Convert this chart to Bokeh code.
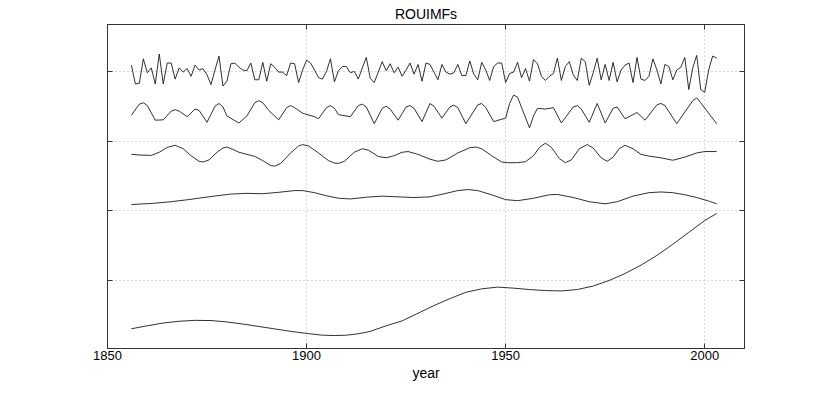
from bokeh.plotting import figure
from bokeh.models import Range1d, FixedTicker, LinearAxis, CustomJSTickFormatter
from bokeh.embed import file_html
from bokeh.resources import INLINE

# ---------------- data ----------------
title_text = "ROUIMFs"
x_label = "year"
x_ticks = [1850, 1900, 1950, 2000]
y_ticks = [1, 2, 3, 4]

# IMF 1 (annual, 1856-2003)
imf1_years = list(range(1856, 2004))
imf1_vals = [
    0.09, -0.18, -0.17, 0.18,
    -0.02, 0.05, -0.18, 0.25, -0.18, 0.12, 0.12, -0.11, 0.05, -0.01,
    0.04, -0.07, 0.09, 0.02, 0.04, -0.05, -0.19, 0.02, 0.22, -0.21,
    -0.14, 0.11, 0.12, 0.06, 0.02, 0.01, 0.12, -0.12, -0.12, 0.13,
    -0.14, 0.11, 0.06, -0.01, -0.01, -0.06, 0.12, 0.11, -0.16, 0.02,
    0.16, 0.12, 0.02, -0.09, -0.11, 0.00, 0.18, -0.15, 0.01, 0.07,
    0.07, -0.02, 0.00, -0.11, 0.05, 0.20, -0.10, -0.16, -0.01, 0.14,
    0.01, 0.11, -0.02, 0.06, -0.07, 0.02, 0.12, -0.04, 0.10, -0.14,
    0.12, 0.10, -0.01, -0.12, 0.10, -0.01, -0.04, -0.02, 0.10, -0.06,
    -0.06, 0.15, -0.04, -0.12, 0.13, 0.02, -0.13, 0.07, 0.12, 0.12,
    -0.16, -0.03, -0.01, 0.13, -0.09, 0.04, -0.14, 0.17, 0.11, -0.07,
    -0.13, -0.07, -0.03, 0.19, -0.13, 0.07, 0.14, -0.05, -0.13, 0.19,
    0.14, -0.20, -0.02, 0.19, -0.12, 0.10, -0.13, 0.13, -0.15, 0.02,
    0.09, 0.12, -0.16, 0.20, -0.11, -0.13, -0.07, 0.18, 0.02, -0.18,
    0.10, 0.07, -0.12, 0.02, 0.06, 0.20, -0.26, 0.05, 0.23, -0.26,
    -0.30, 0.02, 0.22, 0.19,
]

# IMF 2
imf2_years = [1856, 1858, 1859, 1860, 1862, 1864, 1866, 1867, 1868, 1870,
              1872, 1873, 1875, 1877, 1878, 1879, 1880, 1883, 1885, 1887,
              1888, 1889, 1890.5, 1893, 1895, 1896, 1897, 1899, 1902, 1903,
              1905, 1906, 1907, 1908, 1911, 1913, 1914, 1915, 1917, 1919,
              1920, 1921, 1923, 1925, 1926, 1927, 1929, 1931, 1932, 1934,
              1936, 1937, 1938, 1940, 1943, 1944, 1945, 1947, 1950, 1951,
              1952, 1953, 1956, 1957, 1958, 1960, 1962, 1964, 1967, 1968,
              1969, 1971, 1973, 1975, 1977, 1978, 1980, 1983, 1985, 1988,
              1989, 1990, 1993, 1997, 1998, 1999, 2003]
imf2_vals = [-0.04, 0.12, 0.14, 0.10, -0.11, -0.105, 0.02, 0.04, 0.02, -0.06,
             0.05, 0.03, -0.14, 0.09, 0.13, 0.08, -0.05, -0.15, -0.05, 0.14,
             0.17, 0.14, 0.03, -0.105, 0.07, 0.10, 0.07, -0.01, -0.06, -0.09,
             0.07, 0.10, 0.06, -0.03, -0.06, 0.10, 0.12, 0.08, -0.16, 0.06,
             0.09, 0.05, -0.11, 0.08, 0.10, 0.06, -0.13, 0.13, 0.09, -0.08,
             0.08, 0.105, 0.07, -0.16, 0.11, 0.13, 0.07, -0.13, -0.08, 0.13,
             0.25, 0.22, -0.22, -0.05, 0.06, 0.05, 0.07, -0.15, 0.08, 0.10,
             0.05, -0.14, 0.13, -0.15, 0.06, 0.08, -0.09, 0.0, -0.11, 0.11,
             0.13, 0.10, -0.16, 0.17, 0.21, 0.14, -0.16]

# IMF 3
imf3_years = [1856, 1858, 1861, 1863, 1865, 1867, 1869, 1871, 1873, 1874,
              1875.5, 1877.5, 1879, 1880, 1881.5, 1883, 1885, 1887, 1889, 1891,
              1892, 1893.5, 1896, 1898, 1899, 1900.5, 1903, 1905.5, 1907, 1908,
              1909.5, 1912, 1914, 1915.5, 1918, 1920, 1922, 1924, 1925.5, 1928,
              1931, 1933, 1935, 1938, 1941, 1942.5, 1944, 1946.5, 1949, 1950.5,
              1953, 1955, 1957, 1958.5, 1960, 1961.5, 1963.5, 1965, 1966.5, 1968.5,
              1970.5, 1972, 1974, 1975.5, 1977, 1978.5, 1980, 1982, 1984, 1986,
              1989, 1992, 1995, 1998, 2000, 2003]
imf3_vals = [0.0, -0.01, -0.015, 0.03, 0.10, 0.13, 0.08, -0.02, -0.10, -0.11,
             -0.08, 0.03, 0.09, 0.105, 0.07, 0.03, 0.0, -0.03, -0.09, -0.16,
             -0.17, -0.13, 0.02, 0.12, 0.14, 0.12, 0.02, -0.09, -0.125, -0.13,
             -0.10, 0.03, 0.08, 0.06, -0.03, -0.05, -0.02, 0.03, 0.04, 0.0,
             -0.07, -0.10, -0.08, 0.02, 0.095, 0.105, 0.08, -0.02, -0.11, -0.12,
             -0.12, -0.105, -0.02, 0.10, 0.16, 0.10, -0.06, -0.12, -0.08, 0.08,
             0.14, 0.09, -0.05, -0.10, -0.04, 0.08, 0.13, 0.08, 0.0, -0.025,
             -0.05, -0.085, -0.04, 0.02, 0.04, 0.04]

# IMF 4
imf4_years = [1856, 1861, 1866, 1871, 1876, 1881, 1885, 1889, 1893, 1897,
              1899, 1902, 1905, 1908, 1911, 1915, 1919, 1923, 1927, 1931,
              1935, 1938, 1940.5, 1943, 1947, 1950, 1953, 1957, 1961, 1963,
              1967, 1971, 1975, 1978, 1982, 1986, 1989, 1992, 1995, 1998,
              2001, 2003]
imf4_vals = [-0.10, -0.085, -0.06, -0.025, 0.015, 0.05, 0.06, 0.055, 0.075, 0.10,
             0.10, 0.07, 0.025, -0.01, -0.02, 0.005, 0.02, 0.01, 0.0, 0.01,
             0.06, 0.10, 0.115, 0.10, 0.03, -0.03, -0.045, -0.01, 0.04, 0.045,
             0.0, -0.06, -0.09, -0.06, 0.02, 0.07, 0.08, 0.07, 0.04, 0.0,
             -0.05, -0.09]

# residual trend
trend_years = [1856, 1860, 1864, 1868, 1872, 1876, 1880, 1884, 1888, 1892,
               1896, 1900, 1904, 1907, 1910, 1913, 1916, 1920, 1924, 1928,
               1932, 1936, 1940, 1944, 1948, 1952, 1956, 1960, 1964, 1968,
               1972, 1976, 1980, 1984, 1988, 1992, 1996, 2000, 2003]
trend_vals = [0.307, 0.35, 0.39, 0.415, 0.428, 0.425, 0.405, 0.375, 0.34, 0.305,
              0.27, 0.24, 0.215, 0.21, 0.215, 0.235, 0.27, 0.35, 0.42, 0.53,
              0.64, 0.74, 0.83, 0.88, 0.905, 0.89, 0.87, 0.855, 0.85, 0.87,
              0.92, 1.0, 1.1, 1.22, 1.36, 1.52, 1.69, 1.86, 1.961]

# vertical offsets used to stack the components
offsets = [4.0, 3.41, 2.81, 2.19, 0.0]

# ---------------- figure ----------------
FONT = "Liberation Sans"
INK = "#1a1a1a"

p = figure(frame_width=637, frame_height=324,
           x_range=Range1d(1850, 2010), y_range=Range1d(0.024, 4.673),
           output_backend="svg", toolbar_location=None,
           min_border_left=107, min_border_right=60,
           min_border_top=24, min_border_bottom=37,
           background_fill_color="white", border_fill_color="white")

p.title.text = title_text
p.title.align = "center"
p.title.text_font = FONT
p.title.text_font_style = "normal"
p.title.text_font_size = "14px"
p.title.text_color = "#000000"
p.title.standoff = 6

series = [(imf1_years, imf1_vals), (imf2_years, imf2_vals), (imf3_years, imf3_vals),
          (imf4_years, imf4_vals), (trend_years, trend_vals)]
for (xs, vs), off in zip(series, offsets):
    p.line(xs, [v + off for v in vs], line_color=INK, line_width=0.9)

# axes: box with inward ticks on all four sides
xt = FixedTicker(ticks=x_ticks)
yt = FixedTicker(ticks=y_ticks)
blank = CustomJSTickFormatter(code="return ''")

bottom_ax = p.xaxis[0]
left_ax = p.yaxis[0]
bottom_ax.ticker = xt
left_ax.ticker = yt
left_ax.formatter = blank

top_ax = LinearAxis(ticker=xt, formatter=blank)
right_ax = LinearAxis(ticker=yt, formatter=blank)
p.add_layout(top_ax, "above")
p.add_layout(right_ax, "right")

for ax in [bottom_ax, left_ax, top_ax, right_ax]:
    ax.major_tick_in = 5
    ax.major_tick_out = 0
    ax.minor_tick_line_color = None
    ax.axis_line_color = "#333333"
    ax.major_tick_line_color = "#333333"
    ax.major_label_text_font = FONT
    ax.major_label_text_font_size = "13px"
    ax.major_label_text_color = "#000000"

for ax in [left_ax, top_ax, right_ax]:
    ax.major_label_standoff = 0
    ax.major_label_text_font_size = "1px"

bottom_ax.major_label_standoff = 2
bottom_ax.axis_label = x_label
bottom_ax.axis_label_text_font = FONT
bottom_ax.axis_label_text_font_style = "normal"
bottom_ax.axis_label_text_font_size = "14px"
bottom_ax.axis_label_text_color = "#000000"
bottom_ax.axis_label_standoff = 2

p.xgrid.ticker = xt
p.ygrid.ticker = yt
p.grid.grid_line_color = "#b0b0b0"
p.grid.grid_line_dash = "1 3"
p.grid.grid_line_width = 1
p.outline_line_color = "#333333"

open("out.html", "w").write(file_html(p, INLINE))
